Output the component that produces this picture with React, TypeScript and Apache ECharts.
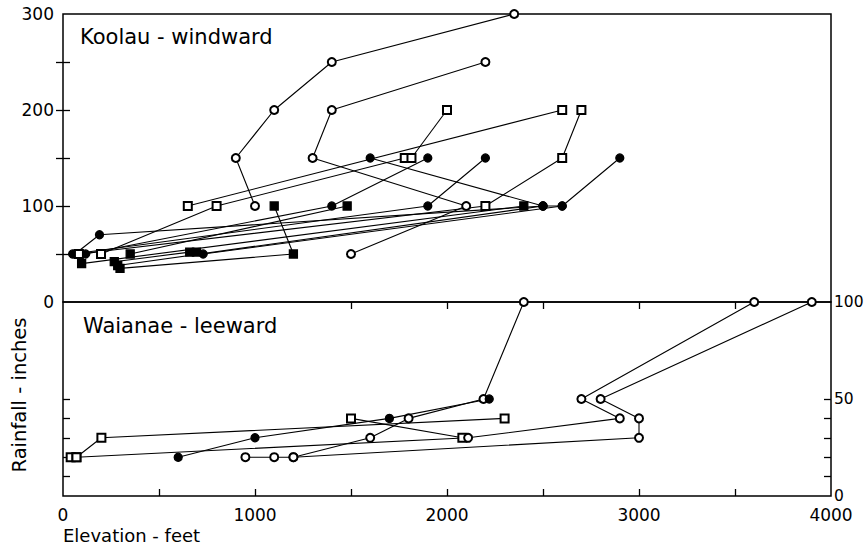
import React, { useEffect, useRef } from "react";
import * as echarts from "echarts";

// Marker codes: o = open circle, c = filled circle, s = open square, S = filled square
type Pt = [number, number, string];

// Koolau - windward (elevation ft, rainfall in)
const koolau1: Pt[] = [[1000, 100, "o"], [900, 150, "o"], [1100, 200, "o"], [1400, 250, "o"], [2350, 300, "o"]];
const koolau2: Pt[] = [[1500, 50, "o"], [2100, 100, "o"], [1300, 150, "o"], [1400, 200, "o"], [2200, 250, "o"]];
const koolau3: Pt[] = [[62, 50, "c"], [190, 70, "c"], [2500, 100, "c"], [2600, 100, "c"], [2900, 150, "c"]];
const koolau4: Pt[] = [[1600, 150, "c"], [2500, 100, "c"]];
const koolau5: Pt[] = [[50, 50, "c"], [1900, 100, "c"], [2200, 150, "c"]];
const koolau6: Pt[] = [[118, 50, "c"], [1400, 100, "c"], [1900, 150, "c"]];
const koolau7: Pt[] = [[350, 50, "S"], [1480, 100, "S"]];
const koolau8: Pt[] = [[97, 40, "S"], [2400, 100, "S"]];
const koolau9: Pt[] = [[267, 42, "S"], [660, 52, "S"], [695, 52, "S"], [730, 50, "c"], [2600, 100, "c"]];
const koolau10: Pt[] = [[297, 35, "S"], [1200, 50, "S"], [1100, 100, "S"]];
const koolau11: Pt[] = [[285, 38, "S"], [2500, 100, "c"]];
const koolau12: Pt[] = [[198, 50, "s"], [800, 100, "s"], [1780, 150, "s"]];
const koolau13: Pt[] = [[650, 100, "s"], [2600, 200, "s"]];
const koolau14: Pt[] = [[1815, 150, "s"], [2000, 200, "s"]];
const koolau15: Pt[] = [[83, 50, "s"], [2200, 100, "s"], [2600, 150, "s"], [2700, 200, "s"]];

// Waianae - leeward
const waianae1: Pt[] = [[950, 20, "o"], [1100, 20, "o"], [1200, 20, "o"], [1600, 30, "o"], [1800, 40, "o"], [2190, 50, "o"], [2400, 100, "o"]];
const waianae2: Pt[] = [[600, 20, "c"], [1000, 30, "c"], [1700, 40, "c"], [2220, 50, "c"]];
const waianae3: Pt[] = [[40, 20, "s"], [70, 20, "s"], [200, 30, "s"], [2300, 40, "s"]];
const waianae4: Pt[] = [[1500, 40, "s"], [2080, 30, "s"]];
const waianae5: Pt[] = [[70, 20, "s"], [2110, 30, "o"], [2900, 40, "o"], [2700, 50, "o"], [3600, 100, "o"]];
const waianae6: Pt[] = [[1200, 20, "o"], [3000, 30, "o"], [3000, 40, "o"], [2800, 50, "o"], [3900, 100, "o"]];

const koolauSeries = [koolau1, koolau2, koolau3, koolau4, koolau5, koolau6, koolau7, koolau8, koolau9, koolau10, koolau11, koolau12, koolau13, koolau14, koolau15];
const waianaeSeries = [waianae1, waianae2, waianae3, waianae4, waianae5, waianae6];

const xLabels = [0, 1000, 2000, 3000, 4000];
const xTicks = [500, 1000, 1500, 2000, 2500, 3000, 3500];
const xTopTicks = [1500, 2000, 2500, 3000, 3500];
const koolauLabels = [0, 100, 200, 300];
const koolauTicks = [50, 100, 150, 200, 250];
const waianaeLabels = [0, 50, 100];
const waianaeTicks = [10, 20, 30, 40, 50];

const SYM: Record<string, string> = { o: "emptyCircle", c: "circle", s: "emptyRect", S: "rect" };
const SIZE: Record<string, number> = { o: 8, c: 8, s: 8, S: 8 };

const FONT = "DejaVu Sans";

function makeSeries(points: Pt[], axisIdx: number) {
  return {
    type: "line",
    xAxisIndex: axisIdx === 0 ? 0 : 2,
    yAxisIndex: axisIdx === 0 ? 0 : 2,
    data: points.map(([x, y, m]) => ({ value: [x, y], symbol: SYM[m], symbolSize: SIZE[m] })),
    lineStyle: { color: "#000", width: 1.1 },
    itemStyle: { color: "#000", borderColor: "#000", borderWidth: 1.3 },
    showSymbol: true,
    showAllSymbol: true,
    clip: false,
    silent: true,
    z: 3,
  };
}

const tickStyle = { color: "#000", width: 1.3 };
const plain = (v: number) => String(v);
const labelStyle = { color: "#000", fontSize: 17, fontFamily: FONT, formatter: plain };

export default function App() {
  const ref = useRef<HTMLDivElement>(null);
  useEffect(() => {
    if (!ref.current) return;
    const chart = echarts.init(ref.current, undefined, { renderer: "svg" });
    const option: any = {
      animation: false,
      backgroundColor: "#fff",
      grid: [
        { left: 63, top: 14, width: 768, height: 288, show: true, borderColor: "#000", borderWidth: 1.5, backgroundColor: "transparent", containLabel: false, outerBoundsMode: "none" },
        { left: 63, top: 302, width: 768, height: 194, show: true, borderColor: "#000", borderWidth: 1.5, backgroundColor: "transparent", containLabel: false, outerBoundsMode: "none" },
      ],
      xAxis: [
        { gridIndex: 0, type: "value", min: 0, max: 4000, interval: 500, position: "bottom", axisLine: { show: false }, axisTick: { show: false }, axisLabel: { show: false }, splitLine: { show: false } },
        { gridIndex: 0, type: "value", min: 0, max: 4000, interval: 500, position: "top", axisLine: { show: false }, axisTick: { show: true, inside: true, length: 7, customValues: xTopTicks, lineStyle: tickStyle }, axisLabel: { show: false }, splitLine: { show: false } },
        { gridIndex: 1, type: "value", min: 0, max: 4000, interval: 500, position: "bottom", axisLine: { show: false }, axisTick: { show: true, inside: true, length: 7, customValues: xTicks, lineStyle: tickStyle }, axisLabel: { ...labelStyle, margin: 10, customValues: xLabels, showMinLabel: true, showMaxLabel: true }, splitLine: { show: false } },
      ],
      yAxis: [
        { gridIndex: 0, type: "value", min: 0, max: 300, interval: 50, position: "left", axisLine: { show: false }, axisTick: { show: true, inside: true, length: 7, customValues: koolauTicks, lineStyle: tickStyle }, axisLabel: { ...labelStyle, margin: 9, customValues: koolauLabels }, splitLine: { show: false } },
        { gridIndex: 0, type: "value", min: 0, max: 300, interval: 50, position: "right", axisLine: { show: false }, axisTick: { show: true, inside: true, length: 7, customValues: koolauTicks, lineStyle: tickStyle }, axisLabel: { show: false }, splitLine: { show: false } },
        { gridIndex: 1, type: "value", min: 0, max: 100, interval: 10, position: "left", axisLine: { show: false }, axisTick: { show: true, inside: true, length: 7, customValues: waianaeTicks, lineStyle: tickStyle }, axisLabel: { show: false }, splitLine: { show: false } },
        { gridIndex: 1, type: "value", min: 0, max: 100, interval: 10, position: "right", axisLine: { show: false }, axisTick: { show: true, inside: true, length: 7, customValues: waianaeTicks, lineStyle: tickStyle }, axisLabel: { ...labelStyle, fontSize: 15.5, margin: 3, padding: [0, 0, 10, 0], customValues: waianaeLabels }, splitLine: { show: false } },
      ],
      graphic: [
        { type: "text", left: 80, top: 26, silent: true, style: { text: "Koolau - windward", fontSize: 21, fontFamily: FONT, fill: "#000" } },
        { type: "text", left: 83, top: 315, silent: true, style: { text: "Waianae - leeward", fontSize: 21, fontFamily: FONT, fill: "#000" } },
        { type: "text", left: 63, top: 526, silent: true, style: { text: "Elevation - feet", fontSize: 18, fontFamily: FONT, fill: "#000" } },
        { type: "text", x: 19, y: 395, rotation: Math.PI / 2, silent: true, style: { text: "Rainfall - inches", fontSize: 19.5, fontFamily: FONT, fill: "#000", align: "center", verticalAlign: "middle" } },
      ],
      series: [
        ...koolauSeries.map((s) => makeSeries(s, 0)),
        ...waianaeSeries.map((s) => makeSeries(s, 1)),
      ],
    };
    chart.setOption(option);
    return () => chart.dispose();
  }, []);
  return <div ref={ref} style={{ position: "fixed", left: 0, top: 0, width: 864, height: 548, background: "#fff" }} />;
}
